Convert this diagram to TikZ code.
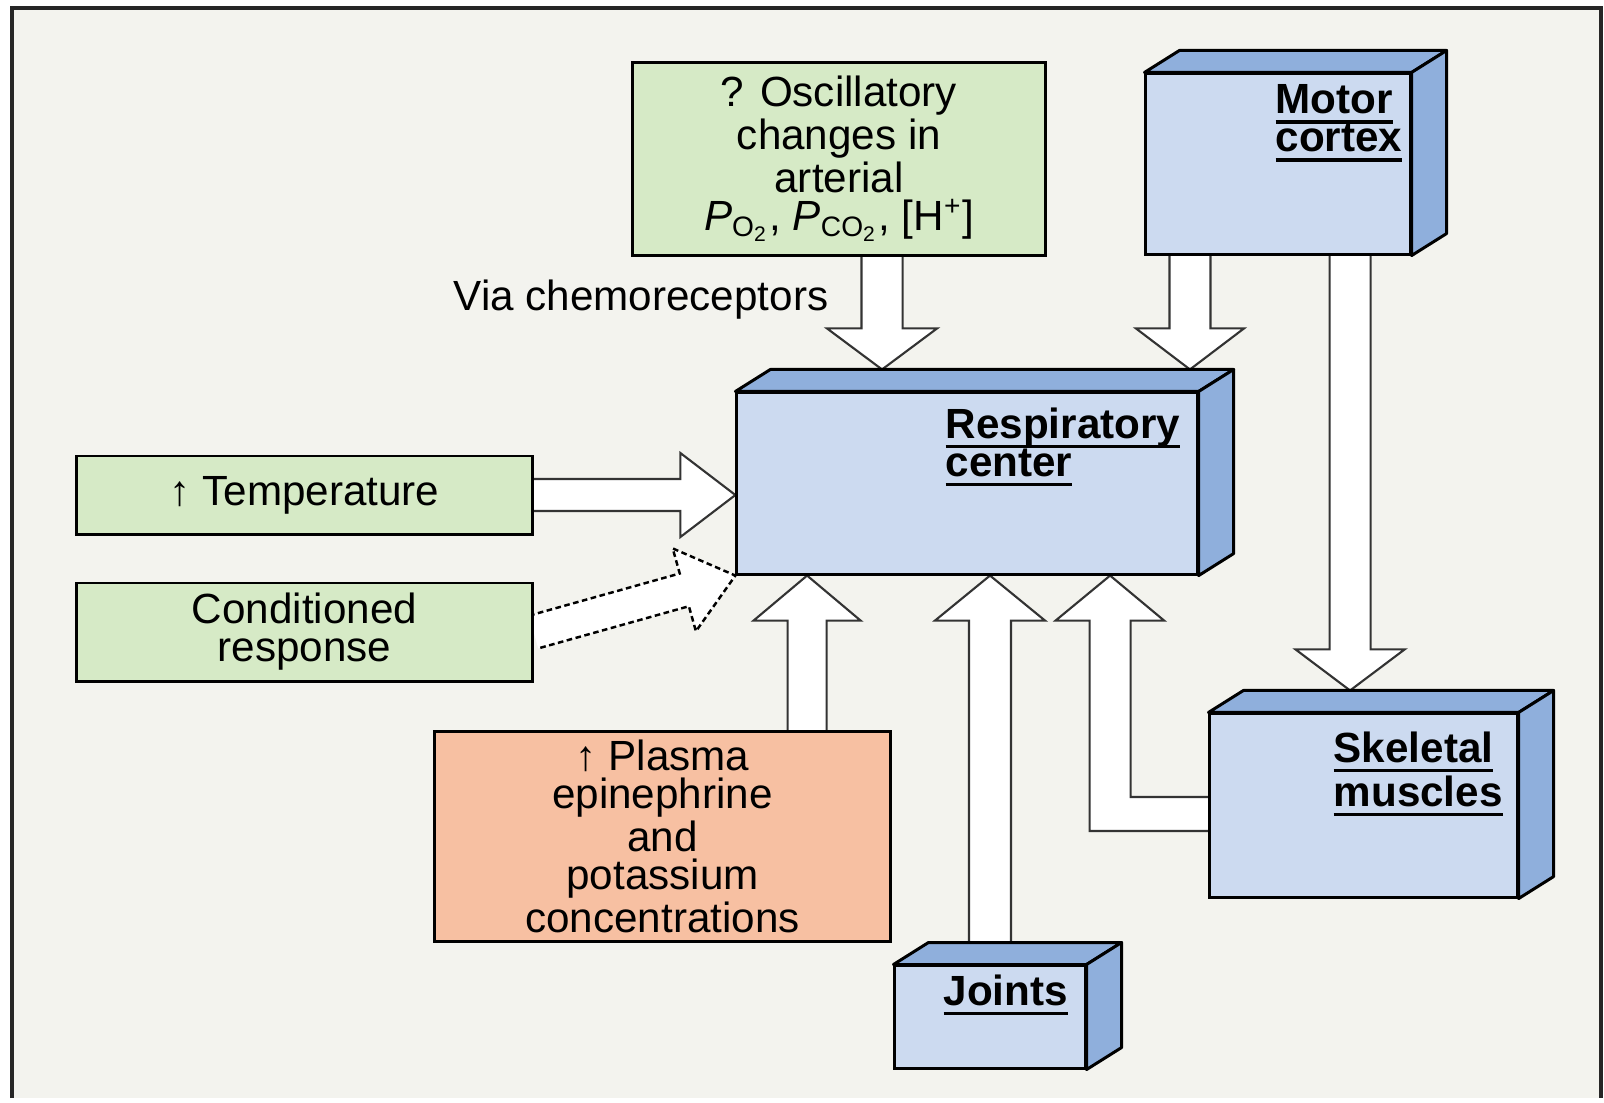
\documentclass[tikz,border=0pt]{standalone}
\usepackage{fontspec}
\setmainfont{Liberation Sans}
\usetikzlibrary{calc,positioning}

\definecolor{bgpaper}{HTML}{F3F3EE}
\definecolor{leafgreen}{HTML}{D6EAC6}
\definecolor{faceblue}{HTML}{CCDAF0}
\definecolor{edgeblue}{HTML}{8FAFDC}
\definecolor{salmon}{HTML}{F7C0A2}

\pgfdeclarelayer{paper}
\pgfdeclarelayer{pipes}
\pgfsetlayers{paper,pipes,main}

\tikzset{
  boxbase/.style={draw=black, line width=0.85pt, inner sep=0pt, align=center,
    font=\fontsize{12}{10.8}\selectfont},
  greenbox/.style={boxbase, fill=leafgreen},
  orangebox/.style={boxbase, fill=salmon},
  bluebox/.style={boxbase, fill=faceblue},
  cubeside/.style={draw=black, line width=0.85pt, fill=edgeblue, line join=round},
  fatline/.style={draw=black!80, fill=white, line width=0.6pt, line join=miter},
  boxlabel/.style={inner sep=0pt, align=left, anchor=north west,
    font=\fontsize{12}{10.8}\selectfont\bfseries},
  plainlabel/.style={inner sep=0pt, font=\fontsize{12}{10.8}\selectfont},
}

\newcommand{\uword}[1]{\setbox0=\hbox{#1}\rlap{\rule[-2.8pt]{\wd0}{0.9pt}}\box0}

% block arrow: [opts]{from}{to}{half shaft}{half head}{head length}
\newcommand{\fatarrow}[6][]{%
  \path (#2) coordinate (fa-s) (#3) coordinate (fa-t);
  \path ($(fa-t)!#6!(fa-s)$) coordinate (fa-b);
  \draw[fatline,#1] ($(fa-s)!#4!90:(fa-t)$) -- ($(fa-b)!#4!90:(fa-t)$)
    -- ($(fa-b)!#5!90:(fa-t)$) -- (fa-t) -- ($(fa-b)!#5!-90:(fa-t)$)
    -- ($(fa-b)!#4!-90:(fa-t)$) -- ($(fa-s)!#4!-90:(fa-t)$);
}

\begin{document}
\begin{tikzpicture}[x=0.01cm,y=-0.01cm,line cap=butt]
\useasboundingbox (0,0) rectangle (1604,1102);

\begin{pgfonlayer}{paper}
\fill[white] (0,0) rectangle (1604,1102);
\fill[bgpaper] (12,8) rectangle (1601,1098);
\draw[line width=0.9pt,black!85] (12,1098) -- (12,8) -- (1601,8) -- (1601,1098);
\end{pgfonlayer}

% input boxes
\node[greenbox,minimum width=4.12cm,minimum height=1.92cm] (osc) at (839,159)
  {? Oscillatory\\changes in\\arterial\\\textit{P}\textsubscript{O\textsubscript{2}}, \textit{P}\textsubscript{CO\textsubscript{2}}, [H\textsuperscript{+}]};
\node[greenbox,minimum width=4.55cm,minimum height=0.78cm] (temp) at (304.5,495) {↑ Temperature};
\node[greenbox,minimum width=4.55cm,minimum height=0.98cm] (cond) at (304.5,632) {Conditioned\\response};
\node[orangebox,minimum width=4.55cm,minimum height=2.09cm] (plasma) at (662.5,836.5)
  {↑ Plasma\\epinephrine\\and\\potassium\\concentrations};

% cuboids (front faces)
\node[bluebox,minimum width=2.64cm,minimum height=1.80cm] (motor) at (1278,164) {};
\node[bluebox,minimum width=4.60cm,minimum height=1.81cm] (resp) at (967,483.5) {};
\node[bluebox,minimum width=3.07cm,minimum height=1.83cm] (skel) at (1363.5,805.5) {};
\node[bluebox,minimum width=1.90cm,minimum height=1.02cm] (joints) at (990,1017) {};

\foreach \c in {motor,resp,skel,joints}
{
    \draw[cubeside] (\c.north west) -- ++(35,-22) -- ([shift={(35,-22)}]\c.north east) -- (\c.north east) -- cycle;
    \draw[cubeside] (\c.north east) -- ++(35,-22) -- ([shift={(35,-22)}]\c.south east) -- (\c.south east) -- cycle;
};

\node[boxlabel] (motor-txt) at (1275,84) {\uword{Motor}\\\uword{cortex}};
\node[boxlabel] (resp-txt) at (945,407) {\uword{Respiratory}\\\uword{center}};
\node[boxlabel] (skel-txt) at (1333,731) {\uword{Skeletal}\\\uword{muscles}};
\node[boxlabel] (joints-txt) at (943,974) {\uword{Joints}};

\node[plainlabel,anchor=base east] (via) at (829,310) {Via chemoreceptors};

% arrow ends
\coordinate (resp-top) at ([yshift=0.22cm]resp.north);
\coordinate (skel-top) at ([yshift=0.22cm]skel.north);
\coordinate (joints-top) at ([yshift=0.22cm]joints.north);
\coordinate (osc-out) at ([xshift=0.43cm]osc.south);
\coordinate (motor-l) at ([xshift=-0.88cm]motor.south);
\coordinate (motor-r) at ([xshift=0.72cm]motor.south);
\coordinate (plasma-out) at ([xshift=1.445cm]plasma.north);
\coordinate (skel-in) at ([yshift=-0.085cm]skel.west);
\coordinate (skel-tip) at ([xshift=1.43cm]resp.south);

\begin{pgfonlayer}{pipes}
\fatarrow{osc-out}{osc-out |- resp-top}{0.205cm}{0.55cm}{0.41cm}
\fatarrow{motor-l}{motor-l |- resp-top}{0.205cm}{0.54cm}{0.41cm}
\fatarrow{motor-r}{motor-r |- skel-top}{0.205cm}{0.545cm}{0.41cm}
\fatarrow{temp.east}{temp.east -| resp.west}{0.16cm}{0.42cm}{0.55cm}
\fatarrow[draw=black,line width=0.7pt,dash pattern=on 1.6pt off 1pt]{cond.east}{resp.south west}{0.17cm}{0.43cm}{0.53cm}
\fatarrow{plasma-out}{plasma-out |- resp.south}{0.195cm}{0.535cm}{0.45cm}
\fatarrow{joints-top}{joints-top |- resp.south}{0.21cm}{0.55cm}{0.45cm}
\draw[fatline] ([yshift=-0.17cm]skel-in) -| ($(skel-tip)+(-20.5,45)$) -- ++(-34,0) -- (skel-tip)
  -- ++(54,45) -- ++(-33.5,0) |- ([yshift=0.17cm]skel-in);
\end{pgfonlayer}
\end{tikzpicture}
\end{document}
